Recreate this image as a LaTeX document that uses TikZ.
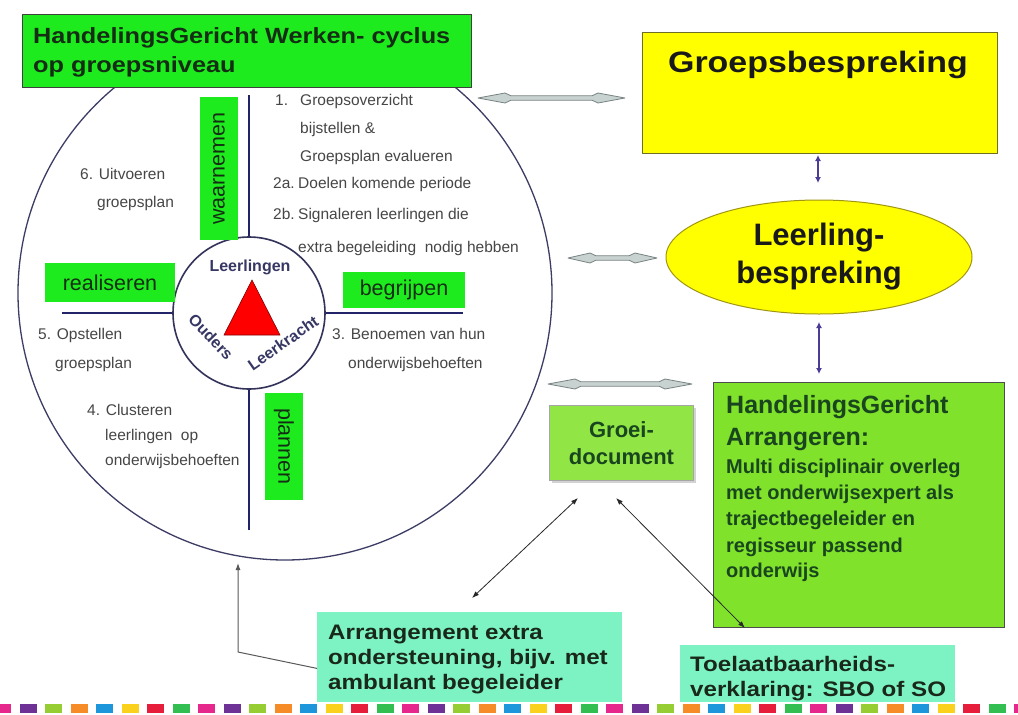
\documentclass[tikz,border=0pt]{standalone}
\usepackage{fontspec}
\setmainfont{Liberation Sans}
\newfontfamily\widefont[FakeStretch=1.15]{Liberation Sans}
\usetikzlibrary{arrows.meta,shapes.geometric,shadows,calc}
\definecolor{hgw}{RGB}{30,235,30}
\definecolor{titletxt}{RGB}{20,45,20}
\definecolor{gtxt}{RGB}{20,45,20}
\definecolor{cyccol}{RGB}{60,60,100}
\definecolor{corecol}{RGB}{50,50,90}
\definecolor{crosscol}{RGB}{35,35,105}
\definecolor{txtgray}{RGB}{70,70,70}
\definecolor{coretxt}{RGB}{55,55,100}
\definecolor{yel}{RGB}{255,255,0}
\definecolor{yelborder}{RGB}{110,110,40}
\definecolor{ellborder}{RGB}{160,150,20}
\definecolor{bluearr}{RGB}{75,60,150}
\definecolor{garfill}{RGB}{200,210,208}
\definecolor{gardraw}{RGB}{120,130,130}
\definecolor{lime}{RGB}{128,226,42}
\definecolor{groeifill}{RGB}{145,230,70}
\definecolor{dkgreen}{RGB}{25,70,30}
\definecolor{aqua}{RGB}{125,243,195}
\definecolor{bottxt}{RGB}{25,40,25}
\definecolor{dc0}{RGB}{230,30,60}
\definecolor{dc1}{RGB}{50,190,80}
\definecolor{dc2}{RGB}{230,40,140}
\definecolor{dc3}{RGB}{110,50,150}
\definecolor{dc4}{RGB}{150,205,50}
\definecolor{dc5}{RGB}{245,140,40}
\definecolor{dc6}{RGB}{30,150,220}
\definecolor{dc7}{RGB}{250,210,30}
\newcommand\fsz[2]{\fontsize{#1pt}{#2pt}\selectfont}
\newcommand\grayarrow[3]{%
  \filldraw[garrow] (#1) -- ($(#1)+(#3,5)$) -- ($(#1)+(#3+6,2.2)$) -- ($(#2)+(-#3-6,2.2)$) -- ($(#2)+(-#3,5)$) -- (#2)
    -- ($(#2)+(-#3,-5)$) -- ($(#2)+(-#3-6,-2.2)$) -- ($(#1)+(#3+6,-2.2)$) -- ($(#1)+(#3,-5)$) -- cycle;}
\tikzset{
  ctext/.style={anchor=base west, inner sep=0, text=txtgray, font=\fsz{15.5}{18}},
  glabel/.style={fill=hgw, inner sep=0, text=gtxt, font=\fsz{21.5}{24}},
  crossline/.style={draw=crosscol, line width=2.6pt},
  coretext/.style={inner sep=0, text=coretxt, font=\bfseries\fsz{16}{18}},
  garrow/.style={fill=garfill, draw=gardraw, line width=0.8pt, line join=round},
  bluearrow/.style={draw=bluearr, line width=1.6pt, {Latex[length=6pt,width=6pt]}-{Latex[length=6pt,width=6pt]}},
  blackarrow/.style={draw=black!85, line width=0.8pt, {Latex[length=7pt,width=5pt]}-{Latex[length=7pt,width=5pt]}},
  hgatext/.style={anchor=base west, inner sep=0, text=dkgreen},
  bottext/.style={anchor=base west, inner sep=0, text=bottxt, font=\widefont\bfseries\fsz{21}{25}},
}
\begin{document}
\begin{tikzpicture}[x=1pt,y=-1pt]
\fill[white] (0,0) rectangle (1018,715);
\useasboundingbox (0,0) rectangle (1018,715);

% ---- cycle ----
\node[circle, draw=cyccol, line width=1.3pt, minimum size=534pt, inner sep=0] (cyc) at (285,293) {};
\node[circle, draw=corecol, line width=1.6pt, fill=white, minimum size=152pt, inner sep=0] (core) at (249,313) {};
\coordinate (vt) at (249,95);
\coordinate (vb) at (249,530);
\coordinate (hl) at (62,313);
\coordinate (hr) at (463,313);
\draw[crossline] (core.north) -- (vt);
\draw[crossline] (core.south) -- (vb);
\draw[crossline] (core.west) -- (hl);
\draw[crossline] (core.east) -- (hr);

\fill[red, draw=red!50!black, line width=0.6pt] (252,280) -- (280,335) -- (224,335) -- cycle;
\node[coretext] (cl) at (250,267) {Leerlingen};
\node[coretext, rotate=-46] (co) at (211,337) {Ouders};
\node[coretext, rotate=35] (ck) at (283,343) {Leerkracht};

% green labels
\node[glabel, rotate=90, minimum width=143pt, minimum height=38pt] (waar) at (219,168.5) {waarnemen};
\node[glabel, rotate=-90, minimum width=107pt, minimum height=38pt] (plan) at (284,446.5) {plannen};
\node[glabel, minimum width=130pt, minimum height=39pt] (real) at (110,282.5) {realiseren};
\node[glabel, minimum width=122pt, minimum height=36pt] (begr) at (404,290) {begrijpen};

% circle texts
\node[ctext] (t1n) at (275,105) {1.};
\node[ctext] (t1a) at (300,105) {Groepsoverzicht};
\node[ctext] (t1b) at (300,133) {bijstellen \&};
\node[ctext] (t1c) at (300,161) {Groepsplan evalueren};
\node[ctext] (t2an) at (273,188) {2a.};
\node[ctext] (t2a) at (298,188) {Doelen komende periode};
\node[ctext] (t2bn) at (273,219) {2b.};
\node[ctext] (t2b) at (298,219) {Signaleren leerlingen die};
\node[ctext] (t2c) at (298,252) {extra begeleiding\ \ nodig hebben};
\node[ctext] (t6a) at (80,179) {6. Uitvoeren};
\node[ctext] (t6b) at (97,207) {groepsplan};
\node[ctext] (t5a) at (38,339) {5. Opstellen};
\node[ctext] (t5b) at (55,368) {groepsplan};
\node[ctext] (t3a) at (332,339) {3. Benoemen van hun};
\node[ctext] (t3b) at (348,368) {onderwijsbehoeften};
\node[ctext] (t4a) at (87,415) {4. Clusteren};
\node[ctext] (t4b) at (105,440) {leerlingen\ \ op};
\node[ctext] (t4c) at (105,465) {onderwijsbehoeften};

% title
\node[draw=black!75, line width=1pt, fill=hgw, anchor=north west, minimum width=449pt, minimum height=73pt, inner sep=0] (title) at (22,14) {};
\node[anchor=base west, inner sep=0, text=titletxt, font=\widefont\bfseries\fsz{22}{26}] (title1) at (33,43) {HandelingsGericht Werken- cyclus};
\node[anchor=base west, inner sep=0, text=titletxt, font=\widefont\bfseries\fsz{22}{26}] (title2) at (33,72) {op groepsniveau};

% ---- right side ----
\node[draw=yelborder, line width=1pt, fill=yel, anchor=north west, minimum width=355pt, minimum height=121pt, inner sep=0] (gb) at (642,32) {};
\node[anchor=base, inner sep=0, font=\widefont\bfseries\fsz{29.5}{34}, text=black!90] (gbt) at (818,72) {Groepsbespreking};

\node[ellipse, draw=ellborder, line width=1pt, fill=yel, minimum width=306pt, minimum height=114pt, inner sep=0, align=center, font=\bfseries\fsz{31}{38}, text=black!90] (lb) at (819,257) {Leerling-\\bespreking};

\coordinate (b1a) at (818,155);
\coordinate (b1b) at (818,183);
\draw[bluearrow] (b1a) -- (b1b);
\coordinate (b2a) at (819,322);
\coordinate (b2b) at (819,374);
\draw[bluearrow] (b2a) -- (b2b);

\coordinate (g1a) at (478,98);
\coordinate (g1b) at (625,98);
\grayarrow{g1a}{g1b}{27}
\coordinate (g2a) at (568,258);
\coordinate (g2b) at (657,258);
\grayarrow{g2a}{g2b}{22}
\coordinate (g3a) at (548,384);
\coordinate (g3b) at (692,384);
\grayarrow{g3a}{g3b}{27}

\node[draw=black!35, line width=1pt, fill=groeifill, drop shadow={shadow xshift=2pt, shadow yshift=-2pt, opacity=0.35}, anchor=north west, minimum width=144pt, minimum height=75pt, inner sep=0, align=center, font=\bfseries\fsz{22}{27}, text=dkgreen] (groei) at (549,405) {Groei-\\document};

\node[draw=black!70, line width=1pt, fill=lime, anchor=north west, minimum width=291pt, minimum height=245pt, inner sep=0] (hga) at (713,382) {};
\node[hgatext, font=\bfseries\fsz{25}{30}] (h1) at (726,413) {HandelingsGericht};
\node[hgatext, font=\bfseries\fsz{25}{30}] (h2) at (726,445) {Arrangeren:};
\node[hgatext, font=\bfseries\fsz{20}{24}] (h3) at (726,473) {Multi disciplinair overleg};
\node[hgatext, font=\bfseries\fsz{20}{24}] (h4) at (726,499) {met onderwijsexpert als};
\node[hgatext, font=\bfseries\fsz{20}{24}] (h5) at (726,525) {trajectbegeleider en};
\node[hgatext, font=\bfseries\fsz{20}{24}] (h6) at (726,552) {regisseur passend};
\node[hgatext, font=\bfseries\fsz{20}{24}] (h7) at (726,577) {onderwijs};

% ---- bottom ----
\node[fill=aqua, anchor=north west, minimum width=305pt, minimum height=90pt, inner sep=0] (arr) at (317,612) {};
\node[bottext] (a1) at (328,639) {Arrangement extra};
\node[bottext] (a2) at (328,664) {ondersteuning, bijv. met};
\node[bottext] (a3) at (328,689) {ambulant begeleider};

\node[fill=aqua, anchor=north west, minimum width=275pt, minimum height=57pt, inner sep=0] (toel) at (680,645) {};
\node[bottext] (o1) at (690,671) {Toelaatbaarheids-};
\node[bottext] (o2) at (690,696) {verklaring: SBO of SO};

\coordinate (k1a) at (578,498);
\coordinate (k1b) at (472,598);
\draw[blackarrow] (k1a) -- (k1b);
\coordinate (k2a) at (616,498);
\coordinate (k2b) at (745,628);
\draw[blackarrow] (k2a) -- (k2b);

\coordinate (a3s) at ($(arr.south west)+(0,-34)$);
\coordinate (a3m) at (238,652);
\coordinate (a3t) at (238,563);
\draw[draw=black!65, line width=1pt, -{Latex[length=7pt,width=5pt]}] (a3s) -- (a3m) -- (a3t);

% dashes
\foreach \i in {0,...,40}{
  \pgfmathtruncatemacro\j{mod(\i+2,8)}
  \fill[dc\j] (\i*25.5-6,704) rectangle ++(17,9);
}
\end{tikzpicture}
\end{document}
